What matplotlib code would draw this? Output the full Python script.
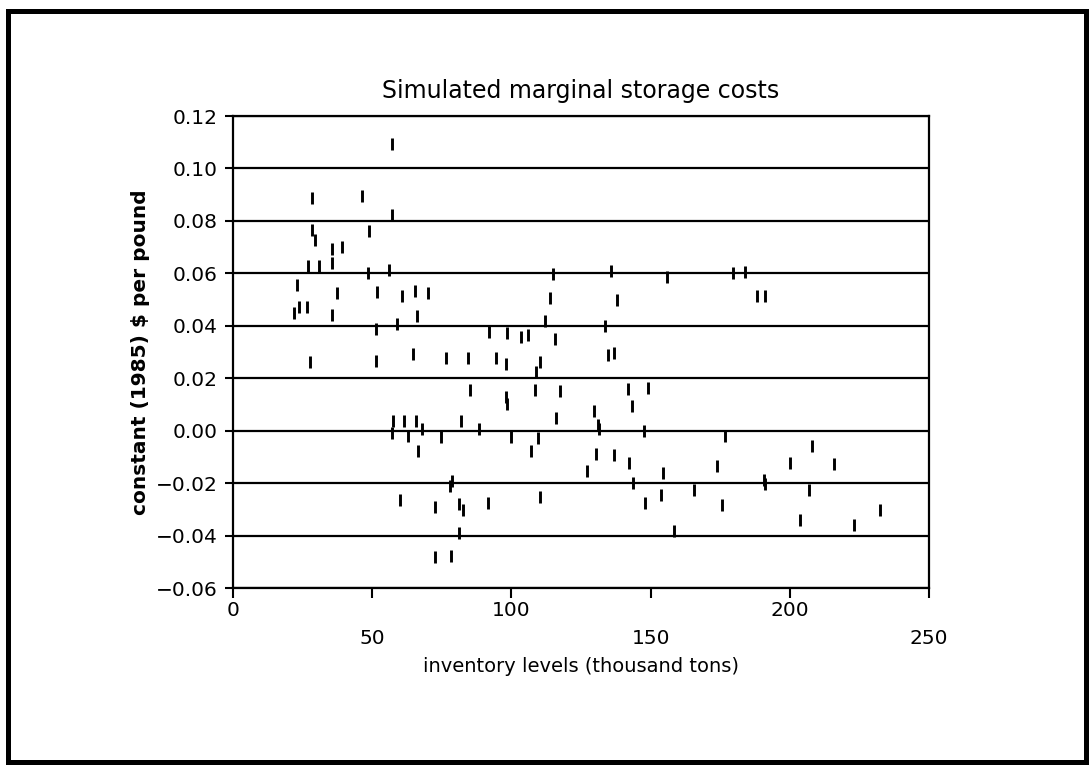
import numpy as np
import matplotlib.pyplot as plt
from matplotlib.patches import Rectangle

# inventory level (thousand tons) and simulated marginal storage cost ($/lb, 1985)
inventory = [22.0, 23.0, 23.8, 26.5, 26.8, 27.5, 28.4, 28.4, 29.6, 30.8,
             35.4, 35.4, 35.4, 37.5, 39.0, 46.3, 48.4, 48.7, 51.5, 51.5,
             51.6, 56.2, 57.1, 57.1, 57.1, 57.5, 58.8, 59.9, 60.6, 61.4,
             62.9, 64.5, 65.4, 65.6, 66.1, 66.4, 68.0, 69.9, 72.7, 72.7,
             74.6, 76.5, 77.8, 78.2, 78.7, 81.1, 81.1, 81.8, 82.6, 84.3,
             85.2, 88.4, 91.7, 92.1, 94.3, 98.0, 98.2, 98.3, 98.3, 100.0,
             103.3, 106.0, 106.9, 108.4, 109.0, 109.6, 110.3, 110.4, 112.2, 113.8,
             114.8, 115.5, 115.9, 117.4, 127.1, 129.5, 130.3, 131.0, 131.6, 133.5,
             134.7, 135.7, 136.8, 136.9, 137.9, 142.0, 142.2, 143.4, 143.5, 147.6,
             148.1, 148.9, 153.7, 154.6, 156.0, 158.5, 165.7, 174.0, 175.7, 176.6,
             179.6, 184.0, 188.3, 190.8, 191.2, 191.2, 200.1, 203.7, 206.8, 207.9,
             215.9, 223.1, 232.4]
cost = [0.0449, 0.0555, 0.0471, 0.0471, 0.0628, 0.0263, 0.0888, 0.0765, 0.0727, 0.0628,
        0.0692, 0.0641, 0.0442, 0.0526, 0.0699, 0.0894, 0.0603, 0.0763, 0.0387, 0.0265,
        0.0530, 0.0612, 0.1095, 0.0823, -0.0009, 0.0038, 0.0408, -0.0264, 0.0515, 0.0038,
        -0.0022, 0.0292, 0.0532, 0.0038, 0.0436, -0.0076, 0.0008, 0.0526, -0.0293, -0.0480,
        -0.0024, 0.0276, -0.0210, -0.0477, -0.0191, -0.0280, -0.0391, 0.0035, -0.0302, 0.0278,
        0.0154, 0.0007, -0.0274, 0.0378, 0.0276, 0.0130, 0.0256, 0.0372, 0.0100, -0.0025,
        0.0356, 0.0365, -0.0079, 0.0154, 0.0224, -0.0028, -0.0254, 0.0260, 0.0417, 0.0505,
        0.0597, 0.0350, 0.0050, 0.0150, -0.0154, 0.0075, -0.0090, 0.0022, 0.0008, 0.0400,
        0.0290, 0.0610, -0.0093, 0.0295, 0.0500, 0.0158, -0.0122, 0.0094, -0.0199, 0.0000,
        -0.0275, 0.0162, -0.0246, -0.0160, 0.0585, -0.0383, -0.0228, -0.0135, -0.0282, -0.0020,
        0.0600, 0.0605, 0.0515, -0.0188, -0.0205, 0.0515, -0.0122, -0.0339, -0.0228, -0.0059,
        -0.0129, -0.0358, -0.0301]

x_ticks = [0, 50, 100, 150, 200, 250]
y_ticks = np.round(np.arange(-0.06, 0.121, 0.02), 2)

plt.rcParams['font.family'] = 'DejaVu Sans'

W, H = 1090, 766
fig = plt.figure(figsize=(W / 100, H / 100), dpi=100)
ax = fig.add_axes([233 / W, 1 - 588 / H, 696 / W, 472 / H])

# horizontal grid lines at every y tick
for yv in y_ticks:
    ax.axhline(yv, color='black', linewidth=1.6, zorder=1)

ax.plot(inventory, cost, linestyle='none', marker='|', markersize=8.5,
        markeredgewidth=2.1, color='black', zorder=3)

ax.set_xlim(0, 250)
ax.set_ylim(-0.06, 0.12)
ax.set_yticks(y_ticks)
ax.set_yticklabels([f'{v:.2f}'.replace('-', '\u2212') for v in y_ticks], fontsize=14.5)
ax.set_xticks(x_ticks)
ax.set_xticklabels([])
ax.tick_params(axis='y', direction='out', length=6, width=1.5, pad=5)
ax.tick_params(axis='x', direction='out', length=7, width=1.5)
for s in ax.spines.values():
    s.set_linewidth(1.6)

# staggered x tick labels, two rows
for i, xv in enumerate(x_ticks):
    off = -22 if i % 2 == 0 else -51
    ax.annotate(str(xv), xy=(xv, -0.06), xycoords='data',
                xytext=(0, off), textcoords='offset pixels',
                ha='center', va='center', fontsize=14.5)

fig.text(581 / W, 1 - 667 / H, 'inventory levels (thousand tons)',
         ha='center', va='center', fontsize=14)
fig.text(140 / W, 1 - 352 / H, 'constant (1985) $ per pound', rotation=90,
         ha='center', va='center', fontsize=14.5, fontweight='bold')
fig.text(581 / W, 1 - 91 / H, 'Simulated marginal storage costs',
         ha='center', va='center', fontsize=17)

# outer frame of the scanned figure
fig.patches.append(Rectangle((7.5 / W, 4 / H), 1078 / W, 751 / H,
                             transform=fig.transFigure, fill=False,
                             edgecolor='black', linewidth=3.6))

fig.savefig('out.png', dpi=100)
